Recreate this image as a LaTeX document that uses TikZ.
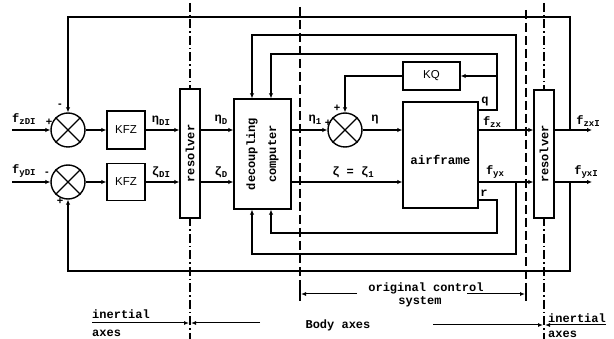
\documentclass[tikz,border=0pt]{standalone}
\usepackage{fontspec}
\setmainfont{Liberation Serif}
\setsansfont{Liberation Sans}
\setmonofont{Liberation Mono}
\usetikzlibrary{arrows.meta}
\newcommand{\lsub}[1]{\raisebox{-2.5pt}{\fontsize{9}{9}\selectfont #1}}
\begin{document}
\begin{tikzpicture}[x=1pt,y=-1pt,
 every node/.style={font=\ttfamily\bfseries\fontsize{12}{12}\selectfont, inner sep=0pt},
 box/.style={draw, line width=1.4pt, fill=white},
 sumj/.style={draw, circle, line width=1.4pt, minimum size=34pt, fill=white},
 wire/.style={line width=1.3pt},
 arr/.style={wire, -{Latex[length=5pt,width=4.5pt]}},
 thinarr/.style={line width=1pt, -{Latex[length=5pt,width=4pt]}},
 dashdot/.style={line width=1.3pt, dash pattern=on 9pt off 3pt on 1.5pt off 3pt},
 dashln/.style={line width=1.3pt, dash pattern=on 9pt off 4pt},
 sfbox/.style={font=\sffamily\fontsize{11.5}{11.5}\selectfont},
 sign/.style={font=\sffamily\bfseries\fontsize{11}{11}\selectfont}
]
\useasboundingbox (0,0) rectangle (614,339);
% axis separation lines
\draw[dashdot] (190,3) -- (190,339);
\draw[dashln] (300,7) -- (300,300);
\draw[dashln] (526,10) -- (526,300);
\draw[dashdot] (544,3) -- (544,339);

% blocks
\node[sumj] (s1) at (68,130) {};
\node[sumj] (s2) at (68,182) {};
\node[sumj] (s3) at (345,130) {};
\foreach \s in {s1,s2,s3}
  \draw[line width=1.4pt] (\s.north west) -- (\s.south east) (\s.north east) -- (\s.south west);
\node[box, sfbox, minimum width=38pt, minimum height=38pt] (k1) at (126,130) {KFZ};
\node[box, sfbox, minimum width=38pt, minimum height=37pt] (k2) at (126,182) {KFZ};
\node[box, minimum width=20pt, minimum height=129pt] (rl) at (190,153.5) {};
\node[rotate=90] (rlt) at (rl.center) {resolver};
\node[box, minimum width=57pt, minimum height=110pt] (dc) at (262.5,154) {};
\node[rotate=90, align=center, font=\ttfamily\bfseries\fontsize{12}{21}\selectfont] (dct) at (dc.center) {decoupling\\computer};
\node[box, minimum width=75pt, minimum height=106pt] (af) at (440.5,155) {};
\node[font=\ttfamily\bfseries\fontsize{12.5}{12.5}\selectfont] (aft) at (440.5,160) {airframe};
\node[box, sfbox, minimum width=57pt, minimum height=28pt] (kq) at (431.5,76) {KQ};
\node[box, minimum width=20pt, minimum height=128pt] (rr) at (544,154) {};
\node[rotate=90] (rrt) at (rr.center) {resolver};

\coordinate (in1) at (12,130);
\coordinate (in2) at (12,182);
\coordinate (dcA) at (252,154);
\coordinate (dcB) at (271,154);

% forward paths
\draw[arr] (in1) -- (s1);
\draw[arr] (in2) -- (s2);
\draw[arr] (s1) -- (k1);
\draw[arr] (s2) -- (k2);
\draw[arr] (k1) -- (k1 -| rl.west);
\draw[arr] (k2) -- (k2 -| rl.west);
\draw[arr] (rl.east |- k1) -- (dc.west |- k1);
\draw[arr] (rl.east |- k2) -- (dc.west |- k2);
\draw[arr] (dc.east |- s3) -- (s3);
\draw[arr] (s3) -- (af.west |- s3);
\draw[arr] (dc.east |- k2) -- (af.west |- k2);
\draw[arr] (kq.west) -| (s3.north);

% airframe outputs
\draw[arr] (af.east |- 0,110) -- (497,110) -- (497,54) -- (dcB |- 0,54) -- (dcB |- dc.north);
\draw[arr] (497,76) -- (kq.east);
\draw[arr] (af.east |- 0,130) -- (rr.west |- 0,130);
\draw[arr] (516,130) -- (516,35) -- (dcA |- 0,35) -- (dcA |- dc.north);
\draw[arr] (af.east |- 0,182) -- (rr.west |- 0,182);
\draw[arr] (516,182) -- (516,254) -- (dcA |- 0,254) -- (dcA |- dc.south);
\draw[arr] (af.east |- 0,200) -- (497,200) -- (497,233) -- (dcB |- 0,233) -- (dcB |- dc.south);

% resolver outputs and outer loops
\draw[arr] (rr.east |- 0,130) -- (592,130);
\draw[arr] (rr.east |- 0,182) -- (592,182);
\draw[arr] (570,130) -- (570,17) -- (s1.north |- 0,17) -- (s1.north);
\draw[arr] (570,182) -- (570,271) -- (s2.south |- 0,271) -- (s2.south);

% labels
\node[anchor=west] at (12,119) {f\lsub{zDI}};
\node[sign] at (49,122) {+};
\node[anchor=west] at (12,171) {f\lsub{yDI}};
\node[sign] at (47,174) {-};
\node[sign] at (60,106) {-};
\node[sign] at (60,201) {+};
\node at (161,121) {η\lsub{DI}};
\node at (161,172) {ζ\lsub{DI}};
\node at (221,120) {η\lsub{D}};
\node at (221,172) {ζ\lsub{D}};
\node at (315,120) {η\lsub{1}};
\node[sign] at (328,123) {+};
\node[sign] at (337,108) {+};
\node at (375,120) {η};
\node at (353,172) {ζ = ζ\lsub{1}};
\node at (485,102) {q};
\node at (492,122) {f\lsub{zx}};
\node at (495,172) {f\lsub{yx}};
\node at (484,193) {r};
\node at (588,121) {f\lsub{zxI}};
\node at (586,172) {f\lsub{yxI}};

% axes annotations
\draw[wire] (300,287) -- (300,301);
\draw[wire] (526,287) -- (526,301);
\draw[thinarr] (357,294) -- (301,294);
\draw[thinarr] (467,294) -- (525,294);
\node (oc1) at (426,288) {original control};
\node (oc2) at (420,302) {system};
\node[anchor=west] (in1t) at (92,314) {inertial};
\node[anchor=west] (ax1t) at (92,333) {axes};
\draw[thinarr] (92,323) -- (189,323);
\draw[thinarr] (260,323) -- (191,323);
\node (bax) at (338,325) {Body axes};
\draw[thinarr] (433,325) -- (543,325);
\draw[thinarr] (606,325) -- (545,325);
\node[anchor=west] (in2t) at (548,318) {inertial};
\node[anchor=west] (ax2t) at (548,334) {axes};
\end{tikzpicture}
\end{document}
